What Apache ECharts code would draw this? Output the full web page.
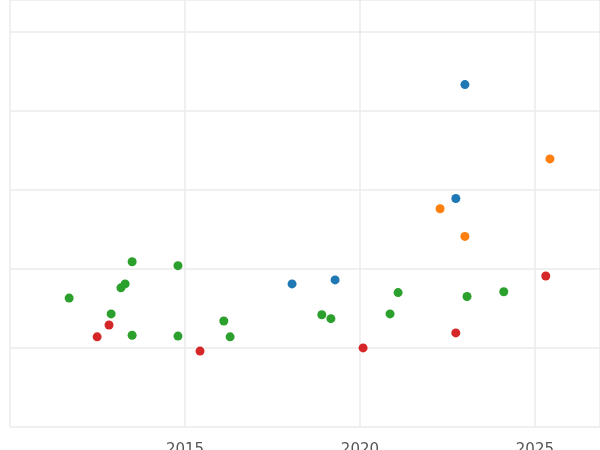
<!DOCTYPE html><html><head><script src="https://cdn.jsdelivr.net/npm/echarts@6/dist/echarts.min.js"></script></head><body style="margin:0"><div id="c" style="width:600px;height:450px"></div><script>
const blueX=[2023.0,2022.74,2018.06,2019.29], blueY=[4.33,2.89,1.81,1.86];
const orangeX=[2025.43,2022.29,2023.0], orangeY=[3.39,2.76,2.41];
const redX=[2012.49,2012.83,2015.43,2020.09,2022.74,2025.31], redY=[1.14,1.29,0.96,1.0,1.19,1.91];
const greenX=[2011.69,2012.89,2013.17,2013.29,2013.49,2013.49,2014.8,2014.8,2016.11,2016.29,2018.91,2019.17,2020.86,2021.09,2023.06,2024.11];
const greenY=[1.63,1.43,1.76,1.81,2.09,1.16,2.04,1.15,1.34,1.14,1.42,1.37,1.43,1.70,1.65,1.71];
const z=(xs,ys)=>xs.map((x,i)=>[x,ys[i]]);
const mk=(xs,ys,c)=>({type:'scatter',data:z(xs,ys),symbolSize:9,itemStyle:{color:c,opacity:1}});
const ch=echarts.init(document.getElementById('c'));
ch.setOption({animation:false,grid:{left:10,right:0,top:0,bottom:23,containLabel:false,outerBoundsMode:'none'},
xAxis:{type:'value',min:2010,max:2026.86,interval:5,axisLine:{show:false},axisTick:{show:false},
axisLabel:{color:'#555',fontSize:15,fontFamily:'DejaVu Sans',margin:8,showMaxLabel:false,formatter:v=>v>2010?String(v):''},
splitLine:{lineStyle:{color:'#ebebeb',width:1.5}}},
yAxis:{type:'value',min:0,max:5.4,interval:1,axisLabel:{show:false},axisLine:{show:false},axisTick:{show:false},
splitLine:{lineStyle:{color:'#ebebeb',width:1.5}}},
series:[mk(blueX,blueY,'#1f77b4'),mk(orangeX,orangeY,'#ff7f0e'),mk(redX,redY,'#d62728'),mk(greenX,greenY,'#2ca02c')]});
</script></body></html>
